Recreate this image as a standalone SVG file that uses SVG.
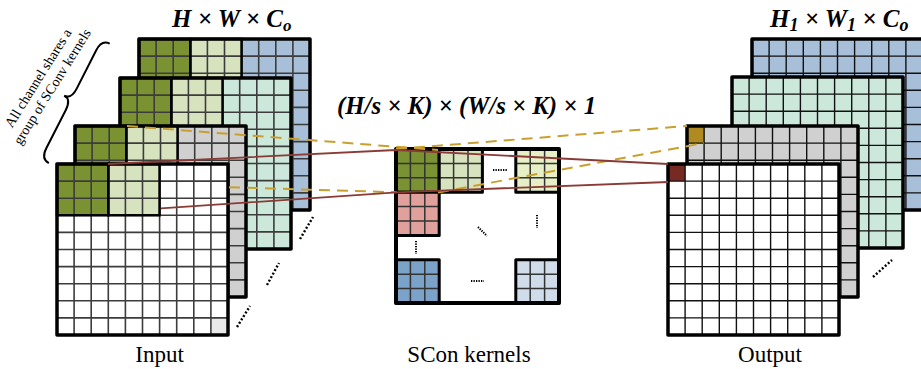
<svg xmlns="http://www.w3.org/2000/svg" xmlns:xlink="http://www.w3.org/1999/xlink" width="921" height="369" viewBox="0 0 921 369">
<style>
.olive{fill:#7a9232}
.lg{fill:#d7e3bf}
.blk{fill:none;stroke:#000;stroke-width:2.5}
.frame{fill:none;stroke:#000;stroke-width:3.5;stroke-linejoin:round}
.gridL{fill:none;stroke:#3c3c3c;stroke-width:1.6}
.gridR{fill:none;stroke:#111;stroke-width:1.4}
.kgrid{fill:none;stroke:#333;stroke-width:1.5}
.kblk{fill:none;stroke:#000;stroke-width:3;stroke-linejoin:round}
.dots{stroke:#000;stroke-width:2.4;stroke-dasharray:2 2;fill:none}
.kdots{stroke:#000;stroke-width:2;stroke-dasharray:1.3 1.2;fill:none}
.gold{fill:none;stroke:#c9a030;stroke-width:2;stroke-dasharray:11 7}
.red{fill:none;stroke:#8b3b35;stroke-width:1.8}
.lbl{font-family:"Liberation Serif",serif;font-size:23px;fill:#000;text-anchor:middle}
.ttl{font-family:"Liberation Serif",serif;font-size:25px;font-weight:bold;font-style:italic;fill:#000}
.note{font-family:"Liberation Serif",serif;font-size:14px;fill:#000;text-anchor:middle}
</style>
<defs>
<path id="grid" d="M17.1 0V171M34.2 0V171M51.3 0V171M68.4 0V171M85.5 0V171M102.6 0V171M119.7 0V171M136.8 0V171M153.9 0V171M0 17.1H171M0 34.2H171M0 51.3H171M0 68.4H171M0 85.5H171M0 102.6H171M0 119.7H171M0 136.8H171M0 153.9H171"/>
<path id="kg" d="M14.4 0V43.2M28.8 0V43.2M0 14.4H43.2M0 28.8H43.2"/>
</defs>

<!-- Input stack -->
<g id="input-ch4" transform="translate(139,39)">
<rect width="171" height="171" fill="#a8bfd9"/>
<rect width="51.3" height="51.3" class="olive"/>
<rect x="51.3" width="51.3" height="51.3" class="lg"/>
<use xlink:href="#grid" class="gridL"/>
<rect width="51.3" height="51.3" class="blk"/>
<rect x="51.3" width="51.3" height="51.3" class="blk"/>
<rect width="171" height="171" class="frame"/>
</g>
<g id="input-ch3" transform="translate(120,78)">
<rect width="171" height="171" fill="#cce8da"/>
<rect width="51.3" height="51.3" class="olive"/>
<rect x="51.3" width="51.3" height="51.3" class="lg"/>
<use xlink:href="#grid" class="gridL"/>
<rect width="51.3" height="51.3" class="blk"/>
<rect x="51.3" width="51.3" height="51.3" class="blk"/>
<rect width="171" height="171" class="frame"/>
</g>
<g id="input-ch2" transform="translate(75,126)">
<rect width="171" height="171" fill="#d0d0d0"/>
<rect width="51.3" height="51.3" class="olive"/>
<rect x="51.3" width="51.3" height="51.3" class="lg"/>
<use xlink:href="#grid" class="gridL"/>
<rect width="51.3" height="51.3" class="blk"/>
<rect x="51.3" width="51.3" height="51.3" class="blk"/>
<rect width="171" height="171" class="frame"/>
</g>
<g id="input-ch1" transform="translate(57,164)">
<rect width="171" height="171" fill="#fff"/>
<rect width="51.3" height="51.3" class="olive"/>
<rect x="51.3" width="51.3" height="51.3" class="lg"/>
<rect x="153.9" y="153.9" width="17.1" height="17.1" fill="#e8e8e8"/>
<use xlink:href="#grid" class="gridL"/>
<rect width="51.3" height="51.3" class="blk"/>
<rect x="51.3" width="51.3" height="51.3" class="blk"/>
<rect width="171" height="171" class="frame"/>
</g>
<g id="input-dots">
<path class="dots" d="M237 327L250 306M267 285L279 263M300 239L313 217"/>
</g>

<!-- Kernels -->
<g id="kernels">
<rect x="396" y="149" width="163" height="154" fill="#fff"/>
<g transform="translate(396,149)"><rect width="43.2" height="43.2" class="olive"/><use xlink:href="#kg" class="kgrid"/><rect width="43.2" height="43.2" class="kblk"/></g>
<g transform="translate(439.2,149)"><rect width="43.2" height="43.2" class="lg"/><use xlink:href="#kg" class="kgrid"/><rect width="43.2" height="43.2" class="kblk"/></g>
<g transform="translate(515.8,149)"><rect width="43.2" height="43.2" fill="#e6efc5"/><use xlink:href="#kg" class="kgrid"/><rect width="43.2" height="43.2" class="kblk"/></g>
<g transform="translate(396,192.2)"><rect width="43.2" height="43.2" fill="#e0a19c"/><use xlink:href="#kg" class="kgrid"/><rect width="43.2" height="43.2" class="kblk"/></g>
<g transform="translate(396,259.8)"><rect width="43.2" height="43.2" fill="#7ba2c8"/><use xlink:href="#kg" class="kgrid"/><rect width="43.2" height="43.2" class="kblk"/></g>
<g transform="translate(515.8,259.8)"><rect width="43.2" height="43.2" fill="#d0dce9"/><use xlink:href="#kg" class="kgrid"/><rect width="43.2" height="43.2" class="kblk"/></g>
<rect x="396" y="149" width="163" height="154" fill="none" stroke="#000" stroke-width="4" stroke-linejoin="round"/>
<path class="kdots" d="M493 170H508M537 215V228M478 227L487 236M416 241V254M471 281H484"/>
</g>

<!-- Output stack -->
<g id="output-ch4" transform="translate(752,39)">
<rect width="171" height="171" fill="#a8bfd9"/>
<use xlink:href="#grid" class="gridR"/>
<rect width="171" height="171" class="frame"/>
</g>
<g id="output-ch3" transform="translate(732,77)">
<rect width="171" height="171" fill="#cce8da"/>
<use xlink:href="#grid" class="gridR"/>
<rect width="171" height="171" class="frame"/>
</g>
<g id="output-ch2" transform="translate(687,126)">
<rect width="171" height="171" fill="#d0d0d0"/>
<rect width="17.1" height="17.1" fill="#b08a20"/>
<use xlink:href="#grid" class="gridR"/>
<rect width="171" height="171" class="frame"/>
</g>
<g id="output-ch1" transform="translate(668,164)">
<rect width="171" height="171" fill="#fff"/>
<rect width="17.1" height="17.1" fill="#772a22"/>
<use xlink:href="#grid" class="gridR"/>
<rect width="171" height="171" class="frame"/>
</g>
<g id="output-dots">
<path class="dots" d="M873 277L892 260"/>
</g>

<!-- Connectors -->
<g id="connectors">
<path class="gold" d="M127 126L438 150"/>
<path class="gold" d="M396 149L687 126"/>
<path class="gold" d="M229 187.2L396.7 192.3"/>
<path class="gold" d="M438 192.5L704 143"/>
<path class="red" d="M108 164L396 150L668 164"/>
<path class="red" d="M161 208.4L396.7 192.3L668 182"/>
</g>

<!-- Brace and note -->
<g id="brace-note">
<path d="M2 -67C-5 -67 -7 -62 -7 -55L-7 -12C-7 -4 -10 0 -15 0C-10 0 -7 4 -7 12L-7 55C-7 62 -5 67 2 67" fill="none" stroke="#000" stroke-width="2" transform="translate(77.5,102.5) rotate(27)"/>
<text class="note" transform="translate(42,80.5) rotate(-58)"><tspan x="0" y="0">All channel shares a</tspan><tspan x="0" y="16.5">group of SConv kernels</tspan></text>
</g>

<!-- Labels -->
<g id="labels">
<text class="ttl" x="172" y="27">H × W × C<tspan font-size="17" dy="4">o</tspan></text>
<text class="ttl" x="770" y="27">H<tspan font-size="18" dy="4">1</tspan><tspan dy="-4"> × W</tspan><tspan font-size="18" dy="4">1</tspan><tspan dy="-4"> × C</tspan><tspan font-size="18" dy="4">o</tspan></text>
<text class="ttl" x="337" y="114" style="font-size:24.8px">(H/s × K) × (W/s × K) × 1</text>
<text class="lbl" x="159.5" y="362">Input</text>
<text class="lbl" x="469" y="362">SCon kernels</text>
<text class="lbl" x="770" y="362">Output</text>
</g>
</svg>
